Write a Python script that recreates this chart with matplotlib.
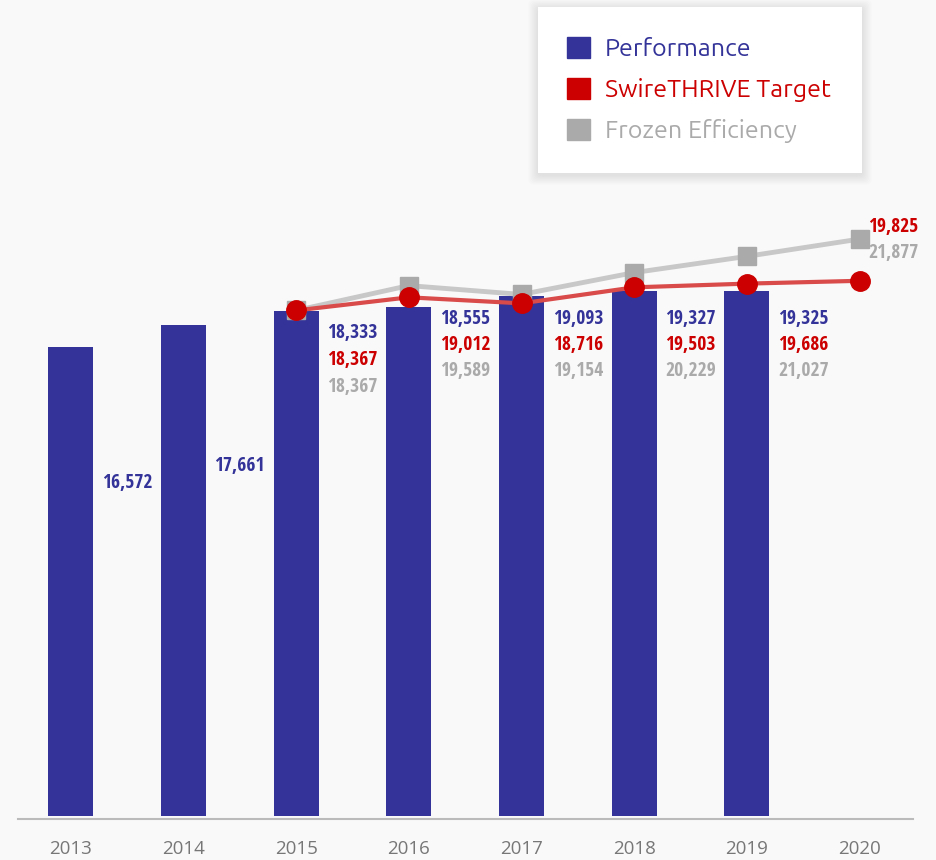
import matplotlib.pyplot as plt
import numpy as np
from matplotlib.patches import Patch, FancyBboxPatch

# data
years = ['2013', '2014', '2015', '2016', '2017', '2018', '2019', '2020']
performance = [16572, 17661, 18333, 18555, 19093, 19327, 19325]
target_years = ['2015', '2016', '2017', '2018', '2019', '2020']
target = [18367, 19012, 18716, 19503, 19686, 19825]
frozen = [18367, 19589, 19154, 20229, 21027, 21877]

BLUE = '#333399'
RED = '#cc0000'
GREY = '#aaaaaa'
BG = '#f9f9f9'

num_font = 'Open Sans Condensed'
tick_font = 'Open Sans'
leg_font = 'Ubuntu'

fig = plt.figure(figsize=(9.37, 8.6), dpi=100)
fig.patch.set_facecolor(BG)
ax = fig.add_axes([18 / 937, 1 - 819 / 860, 895 / 937, 819 / 860])
ax.set_facecolor(BG)

x = np.arange(len(years))
bar_base = -6500
bar_x = x[:len(performance)]
ax.bar(bar_x, np.array(performance) - bar_base, 0.40, bottom=bar_base,
       color=BLUE, zorder=2)

tx = np.array([years.index(y) for y in target_years])
ax.plot(tx, frozen, color='#c8c8c8', lw=3.5, marker='s', ms=13.5,
        mfc=GREY, mec=GREY, zorder=3)
ax.plot(tx, target, color='#d94a4a', lw=3, marker='o', ms=14,
        mfc=RED, mec=RED, zorder=4)

ax.set_xlim(-0.468, 7.474)
ax.set_ylim(-6648, 33637)
ax.set_yticks([])
ax.set_xticks(x)
ax.set_xticklabels(years, fontfamily=tick_font, fontsize=13.5, color='#777777')
ax.tick_params(axis='x', length=0, pad=15)
for s in ['top', 'left', 'right']:
    ax.spines[s].set_visible(False)
ax.spines['bottom'].set_color('#bbbbbb')
ax.spines['bottom'].set_linewidth(1.5)

lab_kw = dict(fontfamily=num_font, fontsize=14, fontweight='bold',
              ha='center', va='center', zorder=5)

# 2013 / 2014 labels beside the bars
solo_y = [9880, 10716]
for i in range(2):
    ax.text(i + 0.5, solo_y[i], f'{performance[i]:,}', color=BLUE, **lab_kw)

# three-line labels 2015-2019
top_y = [17257, 17946, 17946, 17946, 17946]
step = [19.5, 18.75, 18.75, 18.75, 18.75]
for j, i in enumerate(range(2, 7)):
    vals = [(performance[i], BLUE), (target[j], RED), (frozen[j], GREY)]
    for k, (v, c) in enumerate(vals):
        ax.annotate(f'{v:,}', (i + 0.5, top_y[j]), xytext=(0, -step[j] * k),
                    textcoords='offset points', color=c, **lab_kw)

# 2020 labels
ax.annotate(f'{target[-1]:,}', (7.3, 22480), xytext=(0, 0),
            textcoords='offset points', color=RED, **lab_kw)
ax.annotate(f'{frozen[-1]:,}', (7.3, 22480), xytext=(0, -18.5),
            textcoords='offset points', color=GREY, **lab_kw)

# legend box with soft shadow
bx, by, bw, bh = 538 / 937, 1 - 173 / 860, 324 / 937, 166 / 860
for n in range(8, 0, -1):
    dx = n * 1.2 / 937
    dy = n * 1.2 / 860
    fig.patches.append(FancyBboxPatch((bx - dx, by - dy - 2 / 860), bw + 2 * dx, bh + 2 * dy,
                                      boxstyle='round,pad=0,rounding_size=0.006',
                                      transform=fig.transFigure, fc='#000000',
                                      ec='none', alpha=0.012, zorder=0))
fig.patches.append(FancyBboxPatch((bx, by), bw, bh, boxstyle='square,pad=0',
                                  transform=fig.transFigure, fc='white',
                                  ec='none', zorder=1))

handles = [Patch(color=BLUE), Patch(color=RED), Patch(color=GREY)]
labels = ['Performance', 'SwireTHRIVE Target', 'Frozen Efficiency']
leg = fig.legend(handles, labels, loc='upper left',
                 bbox_to_anchor=(567 / 937, 1 - 37 / 860),
                 frameon=False, prop={'family': leg_font, 'size': 18},
                 labelcolor=[BLUE, RED, GREY],
                 handlelength=0.92, handleheight=0.92, handletextpad=0.6,
                 labelspacing=0.66, borderpad=0, borderaxespad=0)
leg.set_zorder(2)

fig.savefig('out.png', dpi=100, facecolor=BG)
